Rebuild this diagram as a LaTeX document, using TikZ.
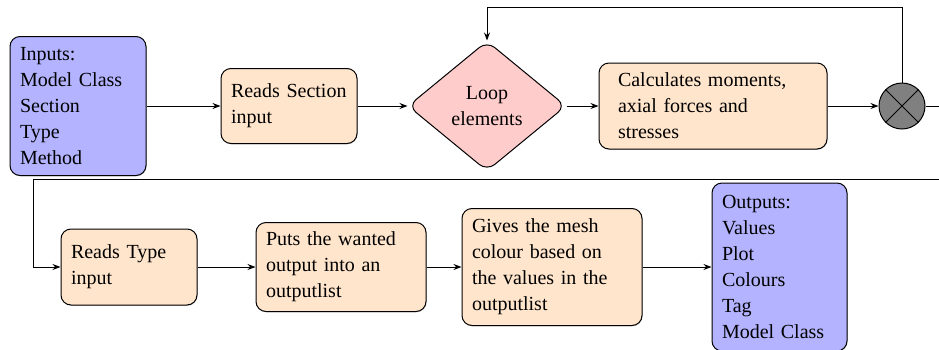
\documentclass[tikz,border=0pt]{standalone}
\usepackage{fontspec}
\setmainfont{Liberation Serif}
\newfontfamily\diagfont{Liberation Serif}
\usetikzlibrary{shapes.geometric,arrows.meta,shadows}
\definecolor{procfill}{RGB}{255,229,204}
\definecolor{iofill}{RGB}{179,179,255}
\definecolor{decfill}{RGB}{255,204,204}
\begin{document}
\begin{tikzpicture}[x=0.5pt,y=-0.5pt,
  font=\diagfont\fontsize{10}{13}\selectfont,
  basebox/.style={draw, line width=0.5pt, rounded corners=5pt, align=left,
    inner ysep=0pt, drop shadow={opacity=0.35, shadow xshift=0.3pt, shadow yshift=-0.4pt}},
  procbox/.style={basebox, fill=procfill},
  iobox/.style={basebox, fill=iofill},
  decbox/.style={draw, line width=0.5pt, diamond, fill=decfill, rounded corners=5pt,
    align=center, inner sep=0pt, minimum width=79pt, minimum height=65pt, aspect=1.22},
  multnode/.style={draw, line width=0.5pt, circle, fill=gray, minimum size=23pt, inner sep=0pt},
  arr/.style={line width=0.5pt, -{Stealth[length=4pt,width=3pt]}},
  ln/.style={line width=0.5pt}]
\path[use as bounding box, clip] (0,0) rectangle (939,349);

% top row
\node[iobox, inner xsep=5pt, text width=58pt, minimum width=68pt, minimum height=69.5pt]
  (in) at (78,106) {Inputs:\\Model Class\\Section\\Type\\Method};
\node[procbox, inner xsep=5pt, text width=58pt, minimum width=68pt, minimum height=37.5pt]
  (rs) at (289,106) {Reads Section\\input};
\node[decbox] (loop) at (487,106) {Loop\\elements};
\node[procbox, inner xsep=9.5pt, text width=95pt, minimum width=114pt, minimum height=43pt]
  (calc) at (713,106) {Calculates moments,\\axial forces and\\stresses};
\node[multnode] (mult) at (902,106) {};
\draw[ln] (mult.45) -- (mult.225) (mult.135) -- (mult.315);

% bottom row
\node[procbox, inner xsep=5pt, text width=58pt, minimum width=68pt, minimum height=38pt]
  (rt) at (129,267) {Reads Type\\input};
\node[procbox, inner xsep=5pt, text width=75pt, minimum width=85pt, minimum height=44.5pt]
  (puts) at (341,267) {Puts the wanted\\output into an\\outputlist};
\node[procbox, inner xsep=5pt, text width=80pt, minimum width=90pt, minimum height=58.5pt]
  (gives) at (552,267) {Gives the mesh\\colour based on\\the values in the\\outputlist};
\node[iobox, inner xsep=5pt, text width=57.5pt, minimum width=67.5pt, minimum height=84pt]
  (out) at (779.5,267) {Outputs:\\Values\\Plot\\Colours\\Tag\\Model Class};

% free ends
\coordinate (fbtop) at (902,7);
\coordinate (rightend) at (960,106);
\coordinate (wrapR) at (960,179);
\coordinate (wrapL) at (33,179);

% connectors
\draw[arr] (in) -- (rs);
\draw[arr] (rs) -- (loop);
\draw[arr] (loop) -- (calc);
\draw[arr] (calc) -- (mult);
\draw[arr] (mult.north) -- (fbtop) -| (loop.north);
\draw[ln] (mult.east) -- (rightend);
\draw[arr] (wrapR) -- (wrapL) |- (rt.west);
\draw[arr] (rt) -- (puts);
\draw[arr] (puts) -- (gives);
\draw[arr] (gives) -- (out);
\end{tikzpicture}
\end{document}
